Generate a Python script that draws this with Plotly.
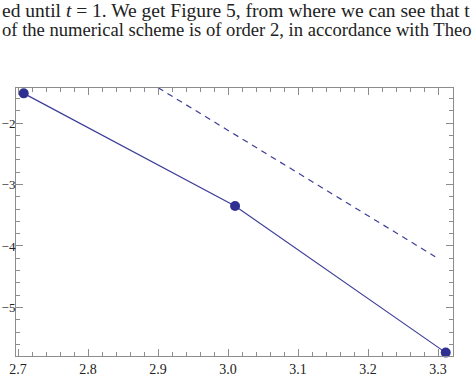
import plotly.graph_objects as go

# data
x_pts = [2.708, 3.010, 3.311]
y_pts = [-1.517, -3.350, -5.735]
x_ref = [2.900, 3.296]
y_ref = [-1.425, -4.174]
y_tickvals = [-5, -4, -3, -2]
y_ticktext = ["\u22125", "\u22124", "\u22123", "\u22122"]
text_lines = [
    "ed until <i>t</i> = 1. We get Figure 5, from where we can see that t",
    "of the numerical scheme is of order 2, in accordance with Theo",
]

line_col = "#3d3d99"
axis_col = "#8c8c8c"
font_fam = "Liberation Serif"

fig = go.Figure()
fig.add_trace(go.Scatter(x=x_ref, y=y_ref, mode="lines",
                         line=dict(color=line_col, width=1.2, dash="6px,5px"),
                         showlegend=False))
fig.add_trace(go.Scatter(x=x_pts, y=y_pts, mode="lines+markers",
                         line=dict(color=line_col, width=1.2),
                         marker=dict(color="#2e3192", size=10),
                         showlegend=False, cliponaxis=False))

axis_common = dict(
    showgrid=False, zeroline=False, showline=True, linecolor=axis_col, linewidth=1,
    mirror="ticks", ticks="inside", ticklen=7, tickcolor=axis_col, tickwidth=1,
    automargin=False,
)
fig.update_xaxes(range=[2.697, 3.3214], tick0=2.7, dtick=0.1, tickformat=".1f",
                 tickfont=dict(family=font_fam, size=14, color="#222"),
                 minor=dict(ticks="inside", dtick=0.02, ticklen=4, tickcolor=axis_col),
                 **axis_common)
fig.update_yaxes(range=[-5.79, -1.43], tickvals=y_tickvals, ticktext=y_ticktext,
                 ticklabelstandoff=-3,
                 tickfont=dict(family=font_fam, size=13, color="#222"),
                 minor=dict(ticks="inside", dtick=0.2, tick0=-5, ticklen=4, tickcolor=axis_col),
                 **axis_common)

for t, yy, sz in zip(text_lines, [1.288, 1.218], [19.5, 18.6]):
    fig.add_annotation(text=t, xref="paper", yref="paper", x=-16/437, y=yy,
                       xanchor="left", yanchor="middle", showarrow=False,
                       font=dict(family=font_fam, size=sz, color="#222"))

fig.update_layout(width=474, height=376, margin=dict(l=16, r=21, t=88, b=20),
                  plot_bgcolor="white", paper_bgcolor="white")
fig.write_html("out.html")
